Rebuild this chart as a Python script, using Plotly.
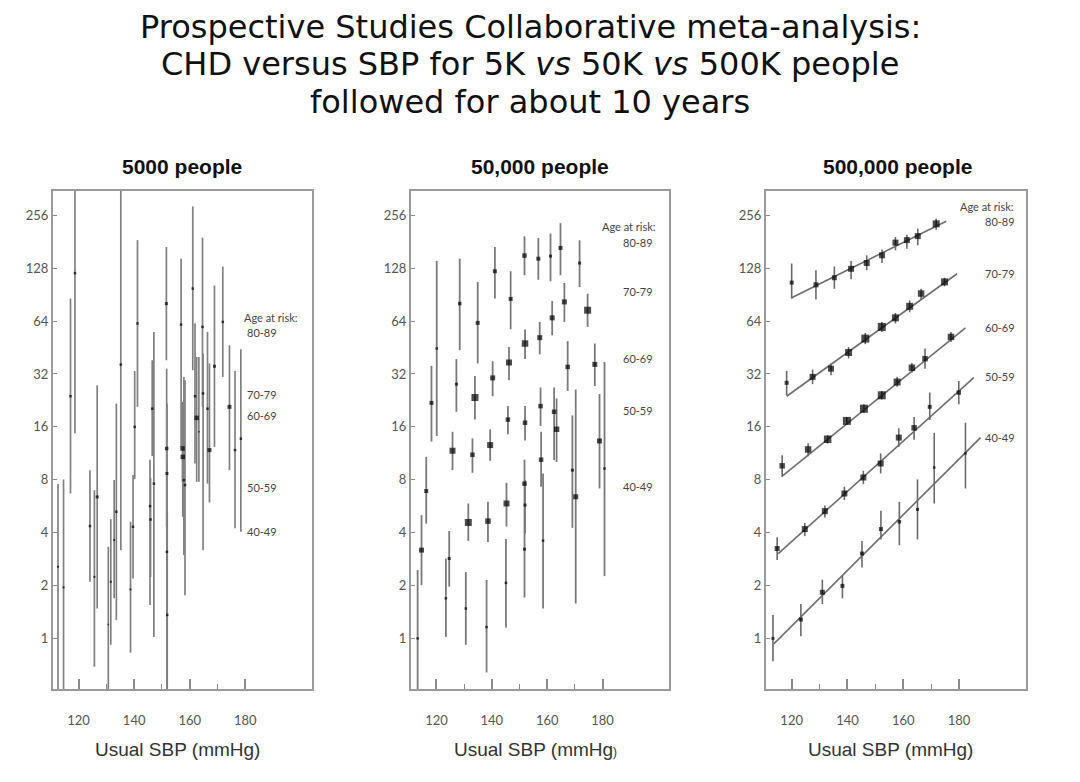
import numpy as np
import plotly.graph_objects as go

# ---------------- data ----------------
ages = ["40-49", "50-59", "60-69", "70-79", "80-89"]
ytick_vals = [1, 2, 4, 8, 16, 32, 64, 128, 256]
xtick_vals = [120, 140, 160, 180]
xminor_vals = [130, 150, 170]
panel_titles = ["5000 people", "50,000 people", "500,000 people"]

# Panel 1: 5000 people
p1_sbp = [112.6, 114.6, 117.1, 118.7, 124.1, 125.7, 126.7, 130.7, 131.6, 132.8, 133.6, 135.2,
          138.7, 139.6, 140.2, 141.2, 145.7, 145.9, 146.5, 147.1, 151.6, 151.7, 151.8, 151.8, 151.9,
          156.9, 157.4, 157.5, 157.9, 158.3, 161.1, 161.9, 162.5, 163.3, 164.6, 164.8, 166.4, 167.1,
          168.9, 171.9, 174.3, 176.3, 178.4]
p1_rate = [2.56, 1.95, 23.9, 120, 4.36, 2.24, 6.39, 1.2, 2.1, 3.63, 5.26, 36.2,
           1.9, 4.32, 16, 62, 5.66, 4.75, 20.3, 7.6, 80.5, 12.05, 8.68, 3.11, 1.36,
           61.1, 12.05, 10.8, 7.96, 7.46, 98, 23.9, 18, 15, 59.3, 24.8, 20.3, 11.8,
           35.4, 63.3, 20.8, 11.8, 13.7]
p1_lo = [0.3, 0.3, 6.68, 14.7, 2.1, 0.69, 1.48, 0.3, 0.92, 1.69, 1.27, 3.18,
         0.83, 2.19, 8.06, 20.8, 1.55, 2.24, 10.9, 1.02, 38.3, 4.32, 2.75, 0.3, 0.3,
         12.3, 7.78, 4.92, 2.98, 1.76, 33.6, 9.9, 7.78, 7.8, 20.8, 3.18, 7.6, 5.94,
         12.3, 30.8, 9.07, 4.23, 4.05]
p1_hi = [7.56, 8.03, 86, 600, 9.07, 6.98, 27.6, 3.32, 4.77, 7.96, 21.7, 600,
         4.61, 8.5, 33.3, 185, 10.4, 8.2, 38.3, 55.5, 169, 34.3, 21.7, 9.9, 5.14,
         145, 22.2, 19.9, 30.8, 29.5, 288, 62, 40, 40, 191, 41.8, 55.5, 36.7,
         102, 131, 46.6, 33.3, 44.3]
p1_size = [2, 2, 2.5, 2.5, 2.5, 2, 3, 1.5, 2, 2, 2.5, 2.5,
           2, 2.5, 2.5, 2.5, 2.5, 2.5, 2.5, 2.5, 3, 3.5, 3, 2.5, 2.5,
           2.5, 4.5, 4.5, 2.5, 2.5, 2.5, 2.5, 4.5, 1.5, 2.5, 2.5, 2.5, 4,
           3, 2.5, 4, 2.5, 2.5]

# Panel 2: 50,000 people
p2_sbp = [113.2, 114.6, 116.3, 118.2, 120.1, 123.4, 124.6, 125.8, 127.2, 128.4,
          130.6, 131.5, 133.0, 133.9, 134.9, 138.1, 138.6, 139.4, 140.3, 141.1,
          145.1, 145.3, 145.8, 146.2, 146.8, 151.8, 151.8, 152.0, 152.0, 152.0, 151.8,
          156.8, 157.3, 157.6, 157.8, 158.5, 161.2, 161.8, 162.5, 163.4, 164.8,
          166.2, 167.4, 169.1, 170.3, 171.7, 174.6, 177.2, 178.9, 180.7]
p2_rate = [1.0, 3.18, 6.9, 21.9, 44.7, 1.69, 2.85, 11.7, 28.0, 80.5,
           1.48, 4.57, 11.1, 23.5, 62.5, 1.16, 4.65, 12.6, 30.4, 123,
           2.07, 5.86, 17.6, 37.2, 85.6, 3.22, 7.6, 5.74, 16.9, 47.7, 151,
           145, 51.5, 21.0, 10.4, 3.6, 150, 66.8, 19.5, 15.5, 167,
           82.3, 35.1, 9.07, 6.4, 137, 73.8, 36.3, 13.3, 9.27]
p2_lo = [0.4, 2.01, 4.5, 13.2, 14.2, 1.02, 1.97, 9.07, 19.5, 43.7,
         0.92, 3.59, 8.76, 17.6, 36.7, 0.64, 3.54, 10.25, 23.9, 86,
         1.155, 4.33, 14.5, 29.5, 57.5, 1.71, 5.14, 3.96, 13.4, 38.9, 116.8,
         110, 41.4, 16.2, 7.3, 1.48, 107.8, 53.2, 10.35, 10.1, 116.8,
         63.3, 25.6, 4.26, 1.58, 100, 59.3, 27.3, 7.14, 2.26]
p2_hi = [2.45, 5.03, 10.8, 35.6, 140.8, 2.85, 4.09, 15.0, 38.9, 145,
         2.39, 5.86, 13.75, 31.2, 107, 2.15, 5.99, 15.5, 37.8, 169,
         3.68, 7.68, 21.0, 45.6, 123, 5.14, 10.4, 7.96, 21.0, 57.3, 194.5,
         190, 63.3, 26.8, 15.0, 8.69, 201.5, 83.3, 26.8, 23.2, 231,
         105.5, 49.2, 18.6, 26.1, 184.5, 91.6, 47.7, 24.6, 37.5]
p2_size = [2.5, 5, 4, 4, 2.5, 2.5, 3, 6, 3, 3.5,
           2.5, 7, 4.5, 7, 4, 2.5, 5.5, 6, 5, 4,
           2.5, 6, 4.5, 6, 4, 3, 4.5, 3, 4.5, 6.5, 4.5,
           4, 5, 4.5, 4.5, 2.5, 3, 5, 4.5, 5.5, 4,
           5, 4.5, 3, 5, 3, 7, 5, 5, 2.5]

# Panel 3: 500,000 people (one row per age group, youngest first)
p3_sbp = [
    [113.3, 123.3, 131.0, 138.2, 145.2, 152.0, 158.6, 165.1, 171.1, 182.3],
    [114.8, 124.7, 131.9, 138.9, 145.7, 151.9, 158.4, 163.9, 169.5, 179.9],
    [116.6, 125.9, 132.9, 139.8, 145.9, 152.3, 157.8, 163.1, 167.8, 177.1],
    [118.2, 127.5, 134.1, 140.4, 146.4, 152.3, 157.2, 162.3, 166.4, 174.8],
    [120.0, 128.7, 135.3, 141.3, 146.9, 152.4, 157.2, 161.3, 165.2, 171.8]]
p3_rate = [
    [1.0, 1.28, 1.83, 1.99, 3.04, 4.19, 4.61, 5.42, 9.39, 11.3],
    [3.25, 4.19, 5.3, 6.68, 8.24, 9.9, 13.9, 15.8, 20.8, 25.1],
    [9.6, 11.9, 13.6, 17.3, 20.3, 24.2, 28.8, 34.7, 39.1, 52],
    [28.5, 30.8, 34.3, 42.4, 50.9, 59.3, 66.8, 77.7, 91.8, 107],
    [106, 103, 113, 127, 137, 151.6, 179, 185, 195, 229]]
p3_lo = [
    [0.74, 1.03, 1.57, 1.69, 2.53, 3.66, 3.39, 3.66, 5.86, 7.14],
    [2.79, 3.82, 4.87, 6.13, 7.56, 8.69, 12.3, 13.5, 17.5, 21.5],
    [8.3, 10.9, 12.85, 16.4, 19.2, 22.9, 27.1, 32.5, 34.3, 48.7],
    [24.2, 28.0, 31.5, 39.2, 47.3, 55.5, 62, 71.9, 84.8, 101],
    [86, 84.8, 97.8, 110.6, 124.6, 137.2, 161.8, 165.4, 172.8, 212]]
p3_hi = [
    [1.36, 1.57, 2.16, 2.29, 3.59, 5.33, 5.99, 8.03, 14.8, 16.9],
    [3.77, 4.54, 5.71, 7.3, 9.0, 11.3, 15.7, 18.2, 25.1, 29.2],
    [11.03, 12.9, 14.35, 18.2, 21.5, 25.6, 30.9, 37, 44.7, 55.5],
    [33.3, 33.9, 36.7, 45.6, 54.8, 63.3, 71.2, 84, 97.8, 113],
    [136, 124.6, 131, 140.8, 151.6, 163.4, 192.7, 198.6, 215, 245]]
p3_size = [
    [3, 4, 5, 4, 4, 4, 3.5, 3, 2.5, 2.5],
    [5, 6, 6, 6, 6, 6, 6, 5.5, 4, 4.5],
    [5.5, 6.5, 7.5, 8, 8, 8, 7, 6.5, 5.5, 6.5],
    [4, 6, 6, 7, 8, 8, 7, 7, 6.5, 7],
    [4, 5, 5, 6, 6, 6, 6, 6, 6, 7]]
# fitted lines (start / end)
fit_sbp = [[113.6, 187.7], [115.2, 185.3], [116.6, 182.3], [118.2, 179.3], [120.0, 175.4]]
fit_rate = [[0.93, 13.9], [3.04, 30.5], [8.4, 58.5], [23.9, 119], [87, 237]]

# age labels inside each panel: header then 80-89 .. 40-49
label_text = ["Age at risk:", "80-89", "70-79", "60-69", "50-59", "40-49"]
p1_label_sbp = [189.4, 186.1, 186.1, 186.1, 186.1, 186.1]
p1_label_rate = [67, 55.1, 24.4, 18.6, 7.2, 4.08]
p2_label_sbp = [189.4, 192.7, 192.7, 192.7, 192.7, 192.7]
p2_label_rate = [221.6, 180, 94.6, 39.1, 19.7, 7.29]
p3_label_sbp = [190.0, 194.7, 194.7, 194.7, 194.7, 194.7]
p3_label_rate = [288, 237, 119, 58.5, 30.8, 13.9]

# ---------------- figure ----------------
# page body has an 8px margin: figure drawn inside it
OFF = 8
W, H = 1064, 766


def px(x):
    return (x - OFF) / W


def py(y):
    return 1 - (y - OFF) / H


fig = go.Figure()

ERR_COL = "#7a7a7a"


def add_points(sbp, rate, lo, hi, size, ax, errw=1.8, errcol=ERR_COL):
    sbp = np.asarray(sbp, float)
    rate = np.asarray(rate, float)
    lo = np.asarray(lo, float)
    hi = np.asarray(hi, float)
    fig.add_trace(go.Scatter(
        x=sbp, y=rate, mode="markers",
        xaxis="x" + ax, yaxis="y" + ax,
        marker=dict(symbol="square", color="black", size=size, line=dict(width=0)),
        error_y=dict(type="data", symmetric=False, array=hi - rate, arrayminus=rate - lo,
                     color=errcol, thickness=errw, width=0),
        showlegend=False, hoverinfo="skip"))


add_points(p1_sbp, p1_rate, p1_lo, p1_hi, p1_size, "", errw=1.7, errcol="#808080")
add_points(p2_sbp, p2_rate, p2_lo, p2_hi, p2_size, "2", errw=1.8)
for g in range(len(ages)):
    fig.add_trace(go.Scatter(x=fit_sbp[g], y=fit_rate[g], mode="lines",
                             xaxis="x3", yaxis="y3",
                             line=dict(color="#6e6e6e", width=1.6),
                             showlegend=False, hoverinfo="skip"))
for g in range(len(ages)):
    add_points(p3_sbp[g], p3_rate[g], p3_lo[g], p3_hi[g], p3_size[g], "3", errw=1.6, errcol="#6a6a6a")

# axis domains (pixel layout)
xdom = [[px(53), px(312)], [px(411), px(669)], [px(766), px(1026)]]
ydom = [py(689), py(191)]
tickfont = dict(family="Lato", size=13, color="#555555")

layout = dict(width=W, height=H, margin=dict(l=0, r=0, t=0, b=0),
              paper_bgcolor="white", plot_bgcolor="white", showlegend=False)
for i in range(3):
    sx = "" if i == 0 else str(i + 1)
    layout["xaxis" + sx] = dict(
        domain=xdom[i], anchor="y" + sx, range=[110.8, 204],
        tickmode="array", tickvals=xtick_vals, ticktext=[str(v) for v in xtick_vals],
        ticks="inside", ticklen=10, tickwidth=1.5, tickcolor="#8a8a8a",
        minor=dict(tickmode="array", tickvals=xminor_vals, ticks="inside", ticklen=5,
                   tickwidth=1.3, tickcolor="#8a8a8a", showgrid=False),
        showline=True, linecolor="#9a9a9a", linewidth=2, mirror=True,
        showgrid=False, zeroline=False, tickfont=tickfont, ticklabelstandoff=18)
    layout["yaxis" + sx] = dict(
        domain=ydom, anchor="x" + sx, type="log",
        range=[np.log10(2 ** -0.957), np.log10(2 ** 8.46)],
        tickmode="array", tickvals=ytick_vals, ticktext=[str(v) for v in ytick_vals],
        ticks="inside", ticklen=4, tickwidth=1.2, tickcolor="#8a8a8a",
        showline=True, linecolor="#9a9a9a", linewidth=2, mirror=True,
        showgrid=False, zeroline=False, tickfont=tickfont)
fig.update_layout(**layout)

ann = []
# main title
title_lines = ["Prospective Studies Collaborative meta-analysis:",
               "CHD versus SBP for 5K <i>vs</i> 50K <i>vs</i> 500K people",
               "followed for about 10 years"]
title_y = [27, 64.5, 102]
for t, yy in zip(title_lines, title_y):
    ann.append(dict(text=t, x=px(530), y=py(yy), xref="paper", yref="paper",
                    xanchor="center", yanchor="middle", showarrow=False,
                    font=dict(family="DejaVu Sans", size=32, color="#111111")))
# panel titles
for t, cx in zip(panel_titles, [182, 540, 897]):
    ann.append(dict(text="<b>" + t + "</b>", x=px(cx), y=py(166), xref="paper", yref="paper",
                    xanchor="center", yanchor="middle", showarrow=False,
                    font=dict(family="Liberation Sans", size=21, color="#111111")))
# x-axis titles
xt = ["Usual SBP (mmHg)", "Usual SBP (mmHg<span style='font-size:12px'>)</span>", "Usual SBP (mmHg)"]
for t, cx in zip(xt, [177, 535, 890]):
    ann.append(dict(text=t, x=px(cx), y=py(749), xref="paper", yref="paper",
                    xanchor="center", yanchor="middle", showarrow=False,
                    font=dict(family="Liberation Sans", size=19, color="#333333")))
# age labels
for sx, lx, ly in [("", p1_label_sbp, p1_label_rate), ("2", p2_label_sbp, p2_label_rate),
                   ("3", p3_label_sbp, p3_label_rate)]:
    for t, x, y in zip(label_text, lx, ly):
        ann.append(dict(text=t, x=x, y=np.log10(y), xref="x" + sx, yref="y" + sx,
                        xanchor="center", yanchor="middle", showarrow=False,
                        font=dict(family="Lato", size=11, color="#444444")))
fig.update_layout(annotations=ann)

fig.write_html("out.html")
